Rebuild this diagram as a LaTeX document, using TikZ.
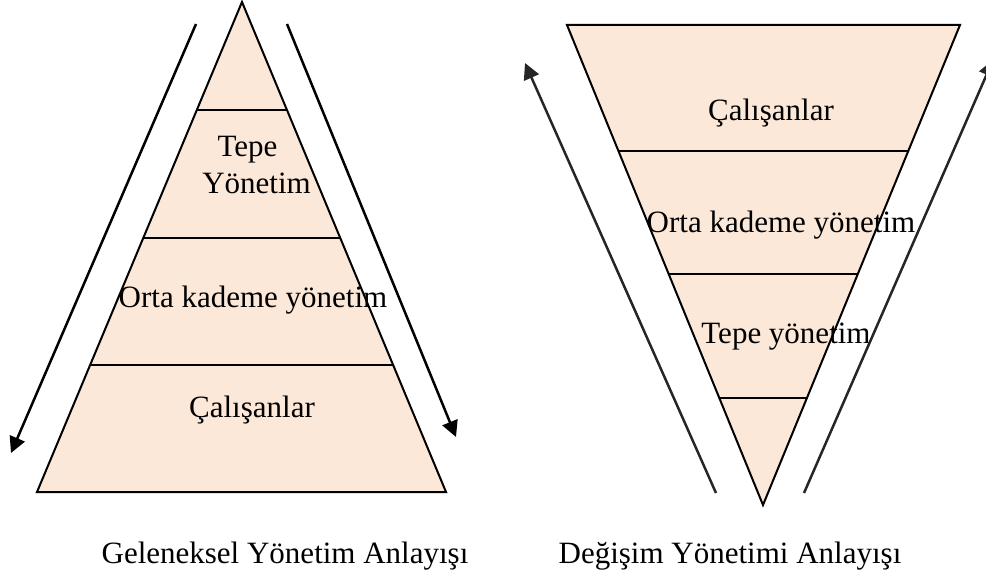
\documentclass[tikz,border=0pt]{standalone}
\usepackage{fontspec}
\setmainfont{Liberation Serif}
\usetikzlibrary{arrows.meta,calc}
\definecolor{peach}{RGB}{252,232,217}
\definecolor{arrowgray}{RGB}{38,38,38}
\begin{document}
\begin{tikzpicture}[x=1pt,y=-1pt,
  layer/.style={draw=black, line width=2pt, fill=peach, line join=miter},
  band/.style={draw=black, line width=2pt},
  flow/.style={line width=2.5pt, -{Triangle[length=16pt,width=16pt]}},
  lbl/.style={font=\fontsize{31}{36}\selectfont, inner sep=0pt, anchor=base},
]
\clip (0,0) rectangle (986,578);

% ---------- traditional pyramid ----------
\coordinate (A)  at (242,2);
\coordinate (BL) at (37,492);
\coordinate (BR) at (446,492);
\draw[layer] (A) -- (BR) -- (BL) -- cycle;
\foreach \t in {0.2204,0.4816,0.7408}
  \draw[band] ($(A)!\t!(BL)$) -- ($(A)!\t!(BR)$);

\node[lbl] (tp1) at (247.5,157) {Tepe};
\node[lbl] (tp2) at (256.5,193) {Yönetim};
\node[lbl] (om1) at (253,307) {Orta kademe yönetim};
\node[lbl] (cl1) at (252,417) {Çalışanlar};

\coordinate (la1) at (196,24);
\coordinate (la2) at (11,453);
\coordinate (ra1) at (287,24);
\coordinate (ra2) at (456,437);
\draw[flow] (la1) -- (la2);
\draw[flow] (ra1) -- (ra2);

\node[lbl] (cap1) at (285,563) {Geleneksel Yönetim Anlayışı};

% ---------- inverted pyramid ----------
\coordinate (C)  at (763,505);
\coordinate (TL) at (567,25);
\coordinate (TR) at (960,25);
\draw[layer] (TL) -- (TR) -- (C) -- cycle;
\foreach \t in {0.2619,0.5188,0.7781}
  \draw[band] ($(TL)!\t!(C)$) -- ($(TR)!\t!(C)$);

\node[lbl] (cl2) at (771,121) {Çalışanlar};
\node[lbl] (om2) at (781,232) {Orta kademe yönetim};
\node[lbl] (tp3) at (786,343) {Tepe yönetim};

\coordinate (lb1) at (716,493);
\coordinate (lb2) at (525,63);
\coordinate (rb1) at (804,493);
\coordinate (rb2) at (993,60);
\draw[flow, draw=arrowgray, fill=arrowgray] (lb1) -- (lb2);
\draw[flow, draw=arrowgray, fill=arrowgray] (rb1) -- (rb2);

\node[lbl] (cap2) at (730,563) {Değişim Yönetimi Anlayışı};
\end{tikzpicture}
\end{document}
